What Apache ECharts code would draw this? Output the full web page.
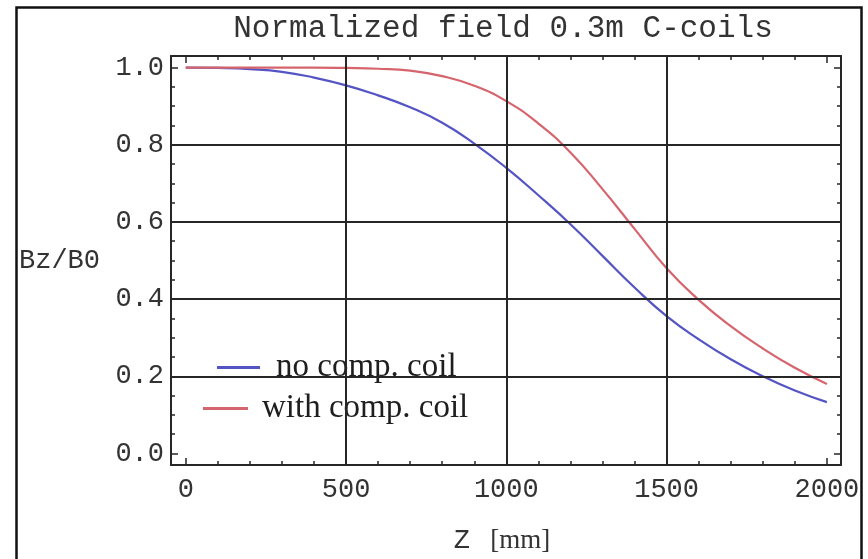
<!DOCTYPE html>
<html>
<head>
<meta charset="utf-8">
<script src="https://cdn.jsdelivr.net/npm/echarts@6/dist/echarts.min.js"></script>
<style>
  html, body { margin: 0; padding: 0; background: #ffffff; }
  #chart { width: 868px; height: 559px; }
</style>
</head>
<body>
<div id="chart"></div>
<script>
// Axial position along the magnet, mm
const zValues = [0, 100, 200, 300, 400, 500, 600, 700, 800, 900, 1000,
                 1100, 1200, 1300, 1400, 1500, 1600, 1700, 1800, 1900, 2000];
// Normalized field Bz/B0 without the compensation coil
const noComp = [1.000, 0.999, 0.996, 0.989, 0.974, 0.954, 0.928, 0.897, 0.857, 0.803, 0.740,
                0.669, 0.594, 0.512, 0.430, 0.356, 0.296, 0.244, 0.200, 0.163, 0.133];
// Normalized field Bz/B0 with the compensation coil
const withComp = [1.000, 1.000, 1.000, 1.000, 1.000, 0.999, 0.997, 0.992, 0.978, 0.953, 0.913,
                  0.855, 0.780, 0.685, 0.582, 0.480, 0.398, 0.330, 0.272, 0.222, 0.180];

const seriesNames = ['no comp. coil', 'with comp. coil'];
const titleText = 'Normalized field 0.3m C-coils';

// Tick positions
const xMajor = [0, 500, 1000, 1500, 2000];
const xMinor = [100, 200, 300, 400, 600, 700, 800, 900, 1100, 1200, 1300, 1400,
                1600, 1700, 1800, 1900];
const yMajor = [0, 0.2, 0.4, 0.6, 0.8, 1.0];
const yMinor = [0.05, 0.1, 0.15, 0.25, 0.3, 0.35, 0.45, 0.5, 0.55, 0.65, 0.7, 0.75,
                0.85, 0.9, 0.95];
// Grid lines
const xGrid = [500, 1000, 1500];
const yGrid = [0.2, 0.4, 0.6, 0.8];

const X_MIN = -46, X_MAX = 2044;
const Y_MIN = -0.03, Y_MAX = 1.03;

const MONO = '"Liberation Mono", "Courier New", Courier, monospace';
const SERIF = '"Liberation Serif", "Times New Roman", serif';
const INK = '#262626';
const BLUE = '#5454c4';
const RED = '#d6646d';

const chart = echarts.init(document.getElementById('chart'), null, { renderer: 'canvas' });

function pairs(xs, ys) { return xs.map((x, i) => [x, ys[i]]); }

function xAxisDef(position, ticks, len, withLabels, showLine) {
  return {
    type: 'value', position: position, min: X_MIN, max: X_MAX,
    axisLine: { show: showLine, onZero: false, lineStyle: { color: INK, width: 2 } },
    axisTick: { show: true, inside: true, length: len, customValues: ticks,
                lineStyle: { color: INK, width: 1.5 } },
    axisLabel: withLabels ? {
      show: true, customValues: xMajor, margin: 11,
      fontFamily: MONO, fontSize: 27, color: '#333',
      formatter: v => String(v)
    } : { show: false },
    splitLine: { show: false }
  };
}

function yAxisDef(position, ticks, len, withLabels, showLine) {
  return {
    type: 'value', position: position, min: Y_MIN, max: Y_MAX,
    axisLine: { show: showLine, onZero: false, lineStyle: { color: INK, width: 2 } },
    axisTick: { show: true, inside: true, length: len, customValues: ticks,
                lineStyle: { color: INK, width: 1.5 } },
    axisLabel: withLabels ? {
      show: true, customValues: yMajor, margin: 7,
      fontFamily: MONO, fontSize: 27, color: '#333',
      formatter: v => v.toFixed(1)
    } : { show: false },
    splitLine: { show: false }
  };
}

const xBottom = xAxisDef('bottom', xMajor, 7, true, true);
xBottom.name = '{m|Z}{s|   [mm]}';
xBottom.nameLocation = 'middle';
xBottom.nameGap = 62;
xBottom.nameTextStyle = {
  padding: [0, 8, 0, 0],
  rich: {
    m: { fontFamily: MONO, fontSize: 27, color: '#333' },
    s: { fontFamily: SERIF, fontSize: 27, color: '#333' }
  }
};

const yLeft = yAxisDef('left', yMajor, 7, true, true);
yLeft.name = 'Bz/B0';
yLeft.nameLocation = 'middle';
yLeft.nameRotate = 0;
yLeft.nameGap = 71;
yLeft.nameTextStyle = { fontFamily: MONO, fontSize: 27, color: '#333' };

const gridLines = xGrid.map(v => ({ xAxis: v })).concat(yGrid.map(v => ({ yAxis: v })));

const option = {
  animation: false,
  backgroundColor: '#ffffff',
  title: {
    text: titleText,
    left: 503, top: 13, textAlign: 'center', padding: 0,
    textStyle: { fontFamily: MONO, fontSize: 31, fontWeight: 'normal', color: '#333' }
  },
  legend: [
    {
      data: [seriesNames[0]], left: 217, top: 351, padding: 0,
      icon: 'rect', itemWidth: 43, itemHeight: 3,
      textStyle: { fontFamily: SERIF, fontSize: 33, color: '#1e1e1e', padding: [0, 0, 0, 11] }
    },
    {
      data: [seriesNames[1]], left: 203, top: 392, padding: 0,
      icon: 'rect', itemWidth: 45, itemHeight: 3,
      textStyle: { fontFamily: SERIF, fontSize: 33, color: '#1e1e1e', padding: [0, 0, 0, 9] }
    }
  ],
  grid: { left: 171, right: 27, top: 56, bottom: 91, containLabel: false },
  xAxis: [
    xBottom,
    xAxisDef('bottom', xMinor, 4, false, false),
    xAxisDef('top', xMajor, 7, false, true),
    xAxisDef('top', xMinor, 4, false, false)
  ],
  yAxis: [
    yLeft,
    yAxisDef('left', yMinor, 4, false, false),
    yAxisDef('right', yMajor, 7, false, true),
    yAxisDef('right', yMinor, 4, false, false)
  ],
  series: [
    {
      name: seriesNames[0], type: 'line', xAxisIndex: 0, yAxisIndex: 0,
      data: pairs(zValues, noComp), smooth: 0.5, showSymbol: false,
      color: BLUE, lineStyle: { color: BLUE, width: 2.2 },
      markLine: {
        silent: true, symbol: 'none', animation: false,
        label: { show: false },
        lineStyle: { color: INK, width: 2, type: 'solid' },
        emphasis: { disabled: true },
        data: gridLines
      }
    },
    {
      name: seriesNames[1], type: 'line', xAxisIndex: 0, yAxisIndex: 0,
      data: pairs(zValues, withComp), smooth: 0.5, showSymbol: false,
      color: RED, lineStyle: { color: RED, width: 2.2 }
    }
  ],
  graphic: [
    {
      type: 'rect', silent: true, z: 100,
      shape: { x: 16.5, y: 7.5, width: 845, height: 560 },
      style: { fill: 'none', stroke: '#111', lineWidth: 2.5 }
    }
  ]
};

chart.setOption(option);
</script>
</body>
</html>
